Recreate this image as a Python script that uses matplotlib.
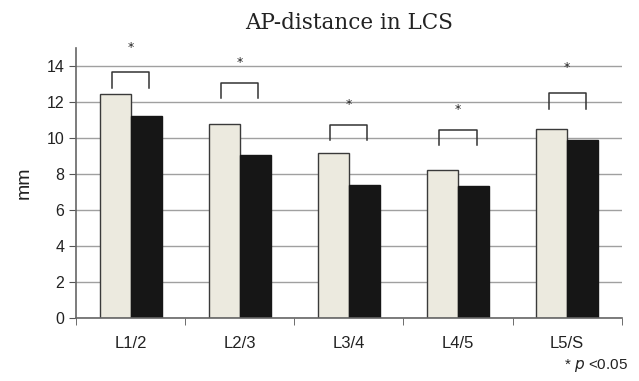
import numpy as np
import matplotlib.pyplot as plt

# datos
niveles = ['L1/2', 'L2/3', 'L3/4', 'L4/5', 'L5/S']
grupo_a = [12.43, 10.75, 9.15, 8.23, 10.51]
grupo_b = [11.23, 9.04, 7.40, 7.34, 9.89]

# corchetes de significancia (altura superior, altura de los extremos, altura del asterisco)
corchete_top = [13.65, 13.06, 10.74, 10.44, 12.49]
corchete_pie = [12.76, 12.20, 9.89, 9.60, 11.60]
asterisco_y = [15.05, 14.19, 11.88, 11.60, 13.93]

fig = plt.figure(figsize=(6.39, 3.81), dpi=100)
ax = fig.add_axes([0.119, 0.1654, 0.854, 0.7086])

x = np.arange(len(niveles))
w = 0.284

#cuadricula
ax.set_axisbelow(True)
ax.yaxis.grid(True, color='#a0a0a0', linewidth=1)

#barras
ax.bar(x - w/2, grupo_a, w, color='#ECEADF', edgecolor='#3a3a3a', linewidth=1)
ax.bar(x + w/2, grupo_b, w, color='#161616', edgecolor='#161616', linewidth=1)

#corchetes y asteriscos
hw = 0.17
for i in range(len(niveles)):
    ax.plot([x[i]-hw, x[i]-hw, x[i]+hw, x[i]+hw],
            [corchete_pie[i], corchete_top[i], corchete_top[i], corchete_pie[i]],
            color='#333333', linewidth=1.1, clip_on=False)
    ax.text(x[i], asterisco_y[i], '*', ha='center', va='center',
            fontsize=9, color='#222222', clip_on=False)

#ejes
ax.set_xlim(-0.5, len(niveles) - 0.5)
ax.set_ylim(0, 15)
ax.set_yticks(np.arange(0, 15, 2))
ax.set_xticks(x)
ax.set_xticklabels(niveles, fontsize=12, family='Liberation Sans', color='#222222')
ax.set_xticks(np.arange(-0.5, len(niveles)), minor=True)
ax.tick_params(axis='x', which='major', length=0, pad=13)
ax.tick_params(axis='x', which='minor', length=5, color='#555555', direction='out')
ax.tick_params(axis='y', length=5, color='#555555', direction='out', labelsize=11.5,
               labelcolor='#222222')
for lab in ax.get_yticklabels():
    lab.set_family('Liberation Sans')

for s in ['top', 'right']:
    ax.spines[s].set_visible(False)
for s in ['left', 'bottom']:
    ax.spines[s].set_color('#666666')
    ax.spines[s].set_linewidth(1.2)

ax.set_ylabel('mm', fontsize=14, family='Liberation Sans', labelpad=10, color='#222222')
ax.set_title('AP-distance in LCS', family='DejaVu Serif', fontsize=15.5, pad=14,
             color='#222222')

fig.text(0.983, 0.04, r'* $\it{p}$ <0.05', ha='right', va='center', fontsize=11,
         family='Liberation Sans', color='#222222')

plt.savefig('out.png', dpi=100)
